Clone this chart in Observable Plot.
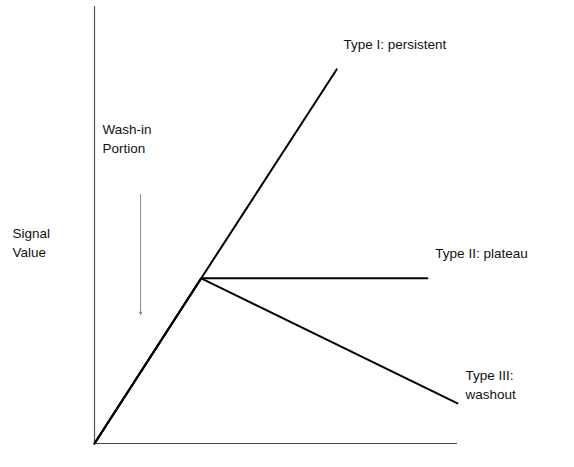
<!DOCTYPE html>
<html>
<head>
<meta charset="utf-8">
<script src="https://cdn.jsdelivr.net/npm/d3@7"></script>
<script src="https://cdn.jsdelivr.net/npm/@observablehq/plot@0.6"></script>
<style>
  html, body { margin: 0; padding: 0; background: #fff; }
  #chart svg { display: block; }
</style>
</head>
<body>
<div id="chart"></div>
<script>
// Curve types: signal value vs time (arbitrary units 0–100)
const series = ["Type I: persistent", "Type II: plateau", "Type III: washout"];
const seriesX = [
  [0, 29.4, 66.7],
  [0, 29.4, 91.7],
  [0, 29.4, 100]
];
const seriesY = [
  [0, 37.8, 85.6],
  [0, 37.8, 37.8],
  [0, 37.8, 9.2]
];

// Annotation labels
const labelText = ["Type I: persistent", "Wash-in\nPortion", "Signal\nValue", "Type II: plateau", "Type III:\nwashout"];
const labelX = [68.6, 2.2, -22.6, 93.9, 102.2];
const labelY = [90.2, 66.4, 42.6, 42.4, 10.1];

// Wash-in arrow
const arrowX = [12.7];
const arrowY1 = [57.0];
const arrowY2 = [29.5];

const lineData = series.flatMap((s, i) => seriesX[i].map((x, j) => ({series: s, x, y: seriesY[i][j]})));
const labels = labelText.map((t, i) => ({t, x: labelX[i], y: labelY[i]}));
const arrows = arrowX.map((x, i) => ({x, y1: arrowY1[i], y2: arrowY2[i]}));

const chart = Plot.plot({
  width: 574,
  height: 467,
  marginLeft: 94,
  marginRight: 117,
  marginTop: 6,
  marginBottom: 24,
  style: {fontFamily: "'Liberation Sans', Arial, sans-serif", background: "#fff"},
  x: {domain: [0, 100], axis: null},
  y: {domain: [0, 100], axis: null},
  marks: [
    Plot.ruleX([0], {y1: 0, y2: 100, stroke: "#555", strokeWidth: 1.2}),
    Plot.ruleY([0], {x1: 0, x2: 100, stroke: "#444", strokeWidth: 1.2}),
    Plot.line(lineData, {x: "x", y: "y", z: "series", stroke: "#000", strokeWidth: 2, strokeLinejoin: "miter"}),
    Plot.arrow(arrows, {x1: "x", x2: "x", y1: "y1", y2: "y2", stroke: "#888", strokeWidth: 1, headLength: 4, headAngle: 50}),
    Plot.text(labels, {x: "x", y: "y", text: "t", textAnchor: "start", lineAnchor: "bottom", lineHeight: 1.4, fontSize: 13.5, fill: "#111"})
  ]
});
document.getElementById("chart").appendChild(chart);
</script>
</body>
</html>
